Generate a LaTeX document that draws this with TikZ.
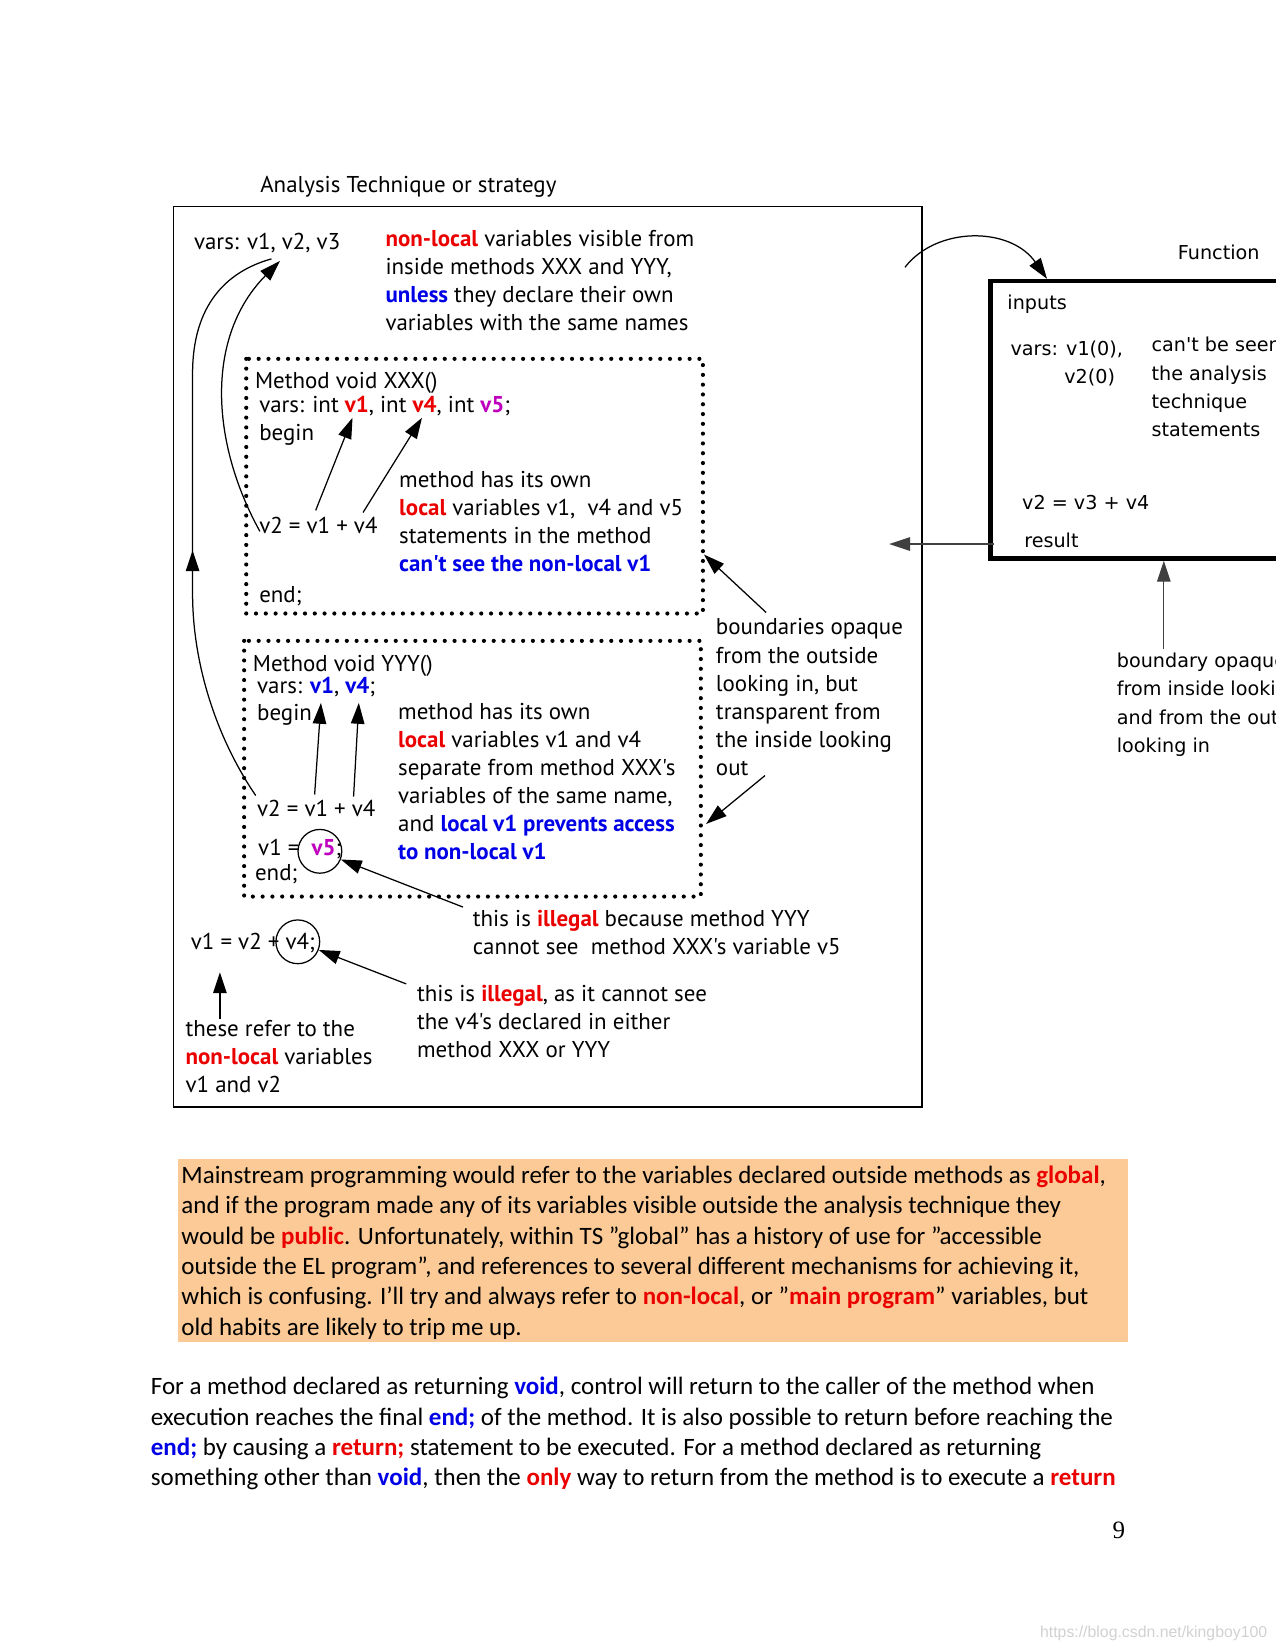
\documentclass[tikz,border=0pt]{standalone}
\usepackage{fontspec}
\setmainfont{Carlito}
\newfontfamily\diagfont{PT Sans}
\newfontfamily\funcfont{DejaVu Sans}
\newfontfamily\pagefont{Liberation Serif}
\newfontfamily\markfont{Liberation Sans}
\usetikzlibrary{calc}
\usetikzlibrary{positioning}
\usetikzlibrary{arrows.meta}
\usetikzlibrary{decorations.markings}

\definecolor{hotred}{RGB}{235,0,0}
\definecolor{keyblue}{RGB}{0,0,230}
\definecolor{vfive}{RGB}{190,0,190}
\definecolor{peach}{RGB}{251,202,150}

\newcommand{\redbf}[1]{\textcolor{hotred}{\bfseries #1}}
\newcommand{\bluebf}[1]{\textcolor{keyblue}{\bfseries #1}}
\newcommand{\vfivebf}[1]{\textcolor{vfive}{\bfseries #1}}

\tikzset{
  diag/.style={font=\diagfont\fontsize{11}{13.5}\selectfont, anchor=base west, inner sep=0pt, align=left},
  func/.style={font=\funcfont\fontsize{9.2}{13.6}\selectfont, anchor=base west, inner sep=0pt, align=left},
  prose/.style={font=\fontsize{12}{14.6}\selectfont, anchor=base west, inner sep=0pt, align=left},
  dotbox/.style={line width=2pt, dash pattern=on 0pt off 4.7pt, line cap=round},
  pointer/.style={line width=0.6pt, -{Triangle[length=10pt,width=6.5pt]}},
  ring/.style={draw, circle, line width=0.6pt, minimum size=21pt, inner sep=0pt}
}

\begin{document}
\begin{tikzpicture}[x=0.505pt,y=-0.505pt]
      \useasboundingbox (0,0) rectangle (1212,1568);

      \node[diag] (title) at (247,183) {Analysis Technique or strategy};
      \draw[line width=0.7pt] (165,196) rectangle (876,1052);

      % multi-line nodes sit on the baseline of their last line
      \node[diag] (globals) at (184,237) {vars: v1, v2, v3};
      \node[diag] (visnote) at (366,314) {\redbf{non-local} variables visible from\\
        inside methods XXX and YYY,\\
        \bluebf{unless} they declare their own\\
        variables with the same names};

      \draw[dotbox] (234,341) rectangle (668,583);
      \node[diag] (xhead) at (242,369) {Method void XXX()};
      \node[diag] (xvars) at (246,392) {vars: int \redbf{v1}, int \redbf{v4}, int \vfivebf{v5};};
      \node[diag] (xbegin) at (246,419) {begin};
      \node[diag] (xcalc) at (246,507) {v2 = v1 + v4};
      \node[diag] (xend) at (246,573) {end;};
      \node[diag] (xnote) at (379,543) {method has its own\\
        \redbf{local} variables v1,\ \ v4 and v5\\
        statements in the method\\
        \bluebf{can't see the non-local v1}};

      \draw[dotbox] (232,609) rectangle (666,852);
      \node[diag] (yhead) at (240,638) {Method void YYY()};
      \node[diag] (yvars) at (244,659) {vars: \bluebf{v1}, \bluebf{v4};};
      \node[diag] (ybegin) at (244,685) {begin};
      \node[diag] (ycalc) at (244,776) {v2 = v1 + v4};
      \node[diag] (yassign) at (245,813) {v1 = \ \vfivebf{v5};};
      \node[diag] (yend) at (242,837) {end;};
      \node[ring] (v5ring) at (304,809) {};
      \node[diag] (ynote) at (378,817) {method has its own\\
        \redbf{local} variables v1 and v4\\
        separate from method XXX's\\
        variables of the same name,\\
        and \bluebf{local v1 prevents access}\\
        \bluebf{to non-local v1}};

      \node[diag] (bndnote) at (680,737) {boundaries opaque\\
        from the outside\\
        looking in, but\\
        transparent from\\
        the inside looking\\
        out};

      \node[diag] (illegalA) at (449,907) {this is \redbf{illegal} because method YYY\\
        cannot see\ \ method XXX's variable v5};
      \node[diag] (outer) at (181,902) {v1 = v2 + v4;};
      \node[ring] (v4ring) at (283,895) {};
      \node[diag] (illegalB) at (396,1005) {this is \redbf{illegal}, as it cannot see\\
        the v4's declared in either\\
        method XXX or YYY};
      \node[diag] (refnote) at (176,1038) {these refer to the\\
        \redbf{non-local} variables\\
        v1 and v2};

      \coordinate (xcalcv1) at (300,485);
      \coordinate (xcalcv4) at (345,487);
      \coordinate (xdeclv1) at (335,397);
      \coordinate (xdeclv4) at (401,397);
      \coordinate (ycalcv1) at (299,755);
      \coordinate (ycalcv4) at (336,757);
      \coordinate (ydeclv1) at (305,668);
      \coordinate (ydeclv4) at (341,668);
      \coordinate (bndtop) at (728,582);
      \coordinate (xedge) at (669,527);
      \coordinate (bndbot) at (727,737);
      \coordinate (yedge) at (671,783);
      \coordinate (illA) at (440,862);
      \coordinate (illB) at (386,935);
      \coordinate (refup) at (209,968);
      \coordinate (outerv1) at (209,924);

      \draw[pointer] (xcalcv1) -- (xdeclv1);
      \draw[pointer] (xcalcv4) -- (xdeclv4);
      \draw[pointer] (ycalcv1) -- (ydeclv1);
      \draw[pointer] (ycalcv4) -- (ydeclv4);
      \draw[pointer] (bndtop) -- (xedge);
      \draw[pointer] (bndbot) -- (yedge);
      \draw[pointer] (illA) -- (v5ring);
      \draw[pointer] (illB) -- (v4ring);
      \draw[pointer] (refup) -- (outerv1);

      \coordinate (xv2) at (247,505);
      \coordinate (yv2) at (243,756);
      \coordinate (gv1) at (258,246);
      \coordinate (gv2) at (266,248);
      \draw[pointer] (xv2) .. controls (200,420) and (195,320) .. (gv2);

      \begin{scope}[decoration={
        markings,
        mark=at position 0.44 with {\arrow{Triangle[length=10pt,width=6.5pt]}}}
        ]
        \draw[line width=0.6pt, postaction={decorate}] (yv2) .. controls (205,700) and (183,630) .. (183,564)
          -- (183,355) .. controls (183,290) and (215,258) .. (gv1);
      \end{scope}

      \node[func] (fname) at (1119,247) {Function};
      \draw[line width=2.3pt] (941,267) rectangle (1250,531);
      \node[func] (inputs) at (957,294) {inputs};
      \node[func] (fvars) at (960,338) {vars: v1(0),};
      \node[func, anchor=base east] (fvars2) at (1060,364) {v2(0)};
      \node[func] (hidden) at (1094,415) {can't be seen\\
        the analysis\\
        technique\\
        statements};
      \node[func] (fcalc) at (971,484) {v2 = v3 + v4};
      \node[func] (result) at (973,520) {result};
      \node[func] (boundary) at (1061,715) {boundary opaque\\
        from inside looking\\
        and from the outside\\
        looking in};

      \coordinate (callout) at (860,254);
      \coordinate (fentry) at (995,265);
      \coordinate (resout) at (945,517);
      \coordinate (resback) at (845,517);
      \coordinate (bndup) at (1106,617);
      \coordinate (fbottom) at (1106,533);
      \draw[pointer] (callout) .. controls (890,215) and (960,215) .. (fentry);
      \draw[pointer, black!75] (resout) -- (resback);
      \draw[pointer, black!75] (bndup) -- (fbottom);

      \fill[peach] (169,1101) rectangle (1072,1275);
      \node[prose] (mainstream) at (172,1269) {Mainstream programming would refer to the variables declared outside methods as \redbf{global},\\
        and if the program made any of its variables visible outside the analysis technique they\\
        would be \redbf{public}. Unfortunately, within TS "global" has a history of use for "accessible\\
        outside the EL program", and references to several different mechanisms for achieving it,\\
        which is confusing. I'll try and always refer to \redbf{non-local}, or "\redbf{main program}" variables, but\\
        old habits are likely to trip me up.};

      \node[prose] (returning) at (143,1412) {For a method declared as returning \bluebf{void}, control will return to the caller of the method when\\
        execution reaches the final \bluebf{end;} of the method. It is also possible to return before reaching the\\
        \bluebf{end;} by causing a \redbf{return;} statement to be executed. For a method declared as returning\\
        something other than \bluebf{void}, then the \redbf{only} way to return from the method is to execute a \redbf{return}};

      \node[anchor=base west, inner sep=0pt, font=\pagefont\fontsize{12}{14}\selectfont] (pagenum) at (1057,1462) {9};
      \node[anchor=base west, inner sep=0pt, font=\markfont\fontsize{7.6}{9}\selectfont, text=black!18] (stamp) at (988,1556) {https://blog.csdn.net/kingboy100};
\end{tikzpicture}
\end{document}
